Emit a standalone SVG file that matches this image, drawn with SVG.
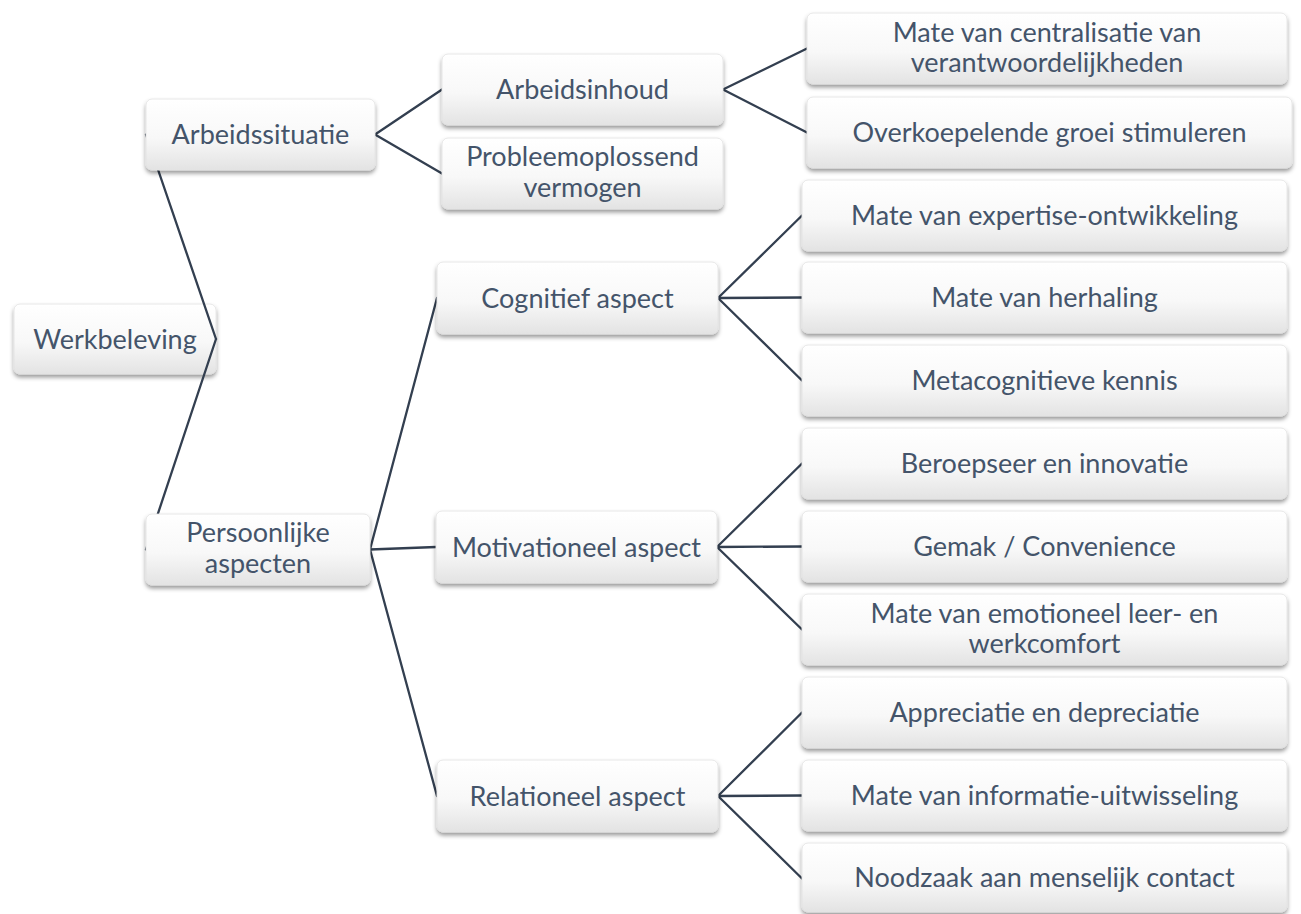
<svg xmlns="http://www.w3.org/2000/svg" width="1301" height="914" viewBox="0 0 1301 914">
<defs>
<linearGradient id="g" x1="0" y1="0" x2="0" y2="1">
<stop offset="0" stop-color="#FFFFFF"/>
<stop offset="0.55" stop-color="#F8F8F8"/>
<stop offset="1" stop-color="#E3E3E3"/>
</linearGradient>
<filter id="sh" x="-10%" y="-20%" width="120%" height="150%">
<feDropShadow dx="0" dy="3" stdDeviation="2.2" flood-color="#000" flood-opacity="0.4"/>
</filter>
<style>
.box{fill:url(#g);stroke:#E2E2E2;stroke-width:0.8;filter:url(#sh)}
.t{font-family:Lato,"Open Sans","Liberation Sans",sans-serif;font-size:27px;fill:#44546A;text-anchor:middle}
.c line{stroke:#333F50;stroke-width:2.3;stroke-linecap:round}
</style>
</defs>
<rect width="1301" height="914" fill="#FFFFFF"/>
<g id="n-werkbeleving"><rect class="box" x="14" y="304" width="202" height="70" rx="6"/><text class="t" x="115" y="349">Werkbeleving</text></g>
<g id="connectors" class="c">
<line x1="216" y1="339" x2="146" y2="134.5"/>
<line x1="216" y1="339" x2="146" y2="549.5"/>
<line x1="375" y1="134.5" x2="442" y2="89.5"/>
<line x1="375" y1="134.5" x2="442" y2="173.5"/>
<line x1="370" y1="549.5" x2="437" y2="298"/>
<line x1="370" y1="549.5" x2="436" y2="547"/>
<line x1="370" y1="549.5" x2="437" y2="796"/>
<line x1="723" y1="89.5" x2="807" y2="48.5"/>
<line x1="723" y1="89.5" x2="807" y2="132.5"/>
<line x1="718" y1="298" x2="802" y2="215.5"/>
<line x1="718" y1="298" x2="802" y2="297.5"/>
<line x1="718" y1="298" x2="802" y2="380.5"/>
<line x1="717" y1="547" x2="802" y2="463.5"/>
<line x1="717" y1="547" x2="802" y2="546.5"/>
<line x1="717" y1="547" x2="802" y2="629.5"/>
<line x1="718" y1="796" x2="802" y2="712.5"/>
<line x1="718" y1="796" x2="802" y2="795.5"/>
<line x1="718" y1="796" x2="802" y2="878.5"/>
</g>
<g id="n-arbeidssituatie"><rect class="box" x="146" y="99" width="229" height="71" rx="6"/><text class="t" x="260.5" y="144">Arbeidssituatie</text></g>
<g id="n-persoonlijke"><rect class="box" x="146" y="514" width="224" height="71" rx="6"/><text class="t" x="258" y="542">Persoonlijke</text><text class="t" x="258" y="573">aspecten</text></g>
<g id="n-arbeidsinhoud"><rect class="box" x="442" y="54" width="281" height="71" rx="6"/><text class="t" x="582.5" y="99">Arbeidsinhoud</text></g>
<g id="n-probleem"><rect class="box" x="442" y="138" width="281" height="71" rx="6"/><text class="t" x="582.5" y="166">Probleemoplossend</text><text class="t" x="582.5" y="197">vermogen</text></g>
<g id="n-cognitief"><rect class="box" x="437" y="262" width="281" height="72" rx="6"/><text class="t" x="577.5" y="308">Cognitief aspect</text></g>
<g id="n-motivationeel"><rect class="box" x="436" y="511" width="281" height="72" rx="6"/><text class="t" x="576.5" y="557">Motivationeel aspect</text></g>
<g id="n-relationeel"><rect class="box" x="437" y="760" width="281" height="72" rx="6"/><text class="t" x="577.5" y="806">Relationeel aspect</text></g>
<g id="n-centralisatie"><rect class="box" x="807" y="13" width="480" height="71" rx="6"/><text class="t" x="1047" y="42">Mate van centralisatie van</text><text class="t" x="1047" y="72">verantwoordelijkheden</text></g>
<g id="n-overkoepelende"><rect class="box" x="807" y="97" width="485" height="71" rx="6"/><text class="t" x="1049.5" y="142">Overkoepelende groei stimuleren</text></g>
<g id="n-expertise"><rect class="box" x="802" y="180" width="485" height="71" rx="6"/><text class="t" x="1044.5" y="225">Mate van expertise-ontwikkeling</text></g>
<g id="n-herhaling"><rect class="box" x="802" y="262" width="485" height="71" rx="6"/><text class="t" x="1044.5" y="307">Mate van herhaling</text></g>
<g id="n-metacognitieve"><rect class="box" x="802" y="345" width="485" height="71" rx="6"/><text class="t" x="1044.5" y="390">Metacognitieve kennis</text></g>
<g id="n-beroepseer"><rect class="box" x="802" y="428" width="485" height="71" rx="6"/><text class="t" x="1044.5" y="473">Beroepseer en innovatie</text></g>
<g id="n-gemak"><rect class="box" x="802" y="511" width="485" height="71" rx="6"/><text class="t" x="1044.5" y="556">Gemak / Convenience</text></g>
<g id="n-emotioneel"><rect class="box" x="802" y="594" width="485" height="71" rx="6"/><text class="t" x="1044.5" y="623">Mate van emotioneel leer- en</text><text class="t" x="1044.5" y="653">werkcomfort</text></g>
<g id="n-appreciatie"><rect class="box" x="802" y="677" width="485" height="71" rx="6"/><text class="t" x="1044.5" y="722">Appreciatie en depreciatie</text></g>
<g id="n-informatie"><rect class="box" x="802" y="760" width="485" height="71" rx="6"/><text class="t" x="1044.5" y="805">Mate van informatie-uitwisseling</text></g>
<g id="n-noodzaak"><rect class="box" x="802" y="843" width="485" height="69" rx="6"/><text class="t" x="1044.5" y="887">Noodzaak aan menselijk contact</text></g>
</svg>
